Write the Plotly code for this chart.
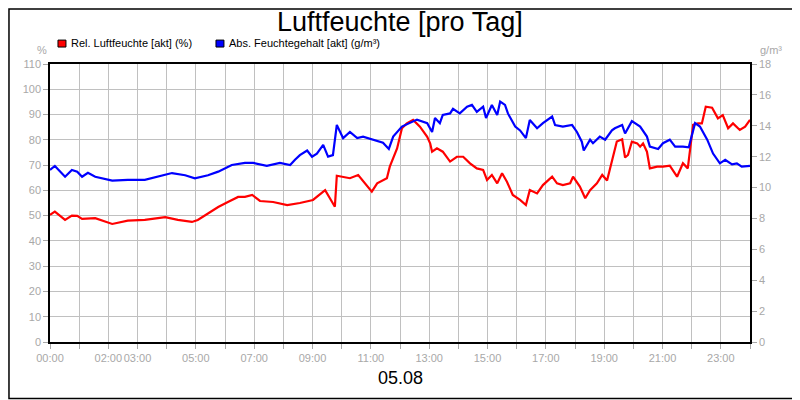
import plotly.graph_objects as go

# Rel. Luftfeuchte (%)
rel_times = ["00:00", "00:10", "00:31", "00:45", "00:56", "01:06", "01:33", "02:08", "02:40", "03:15",
             "03:42", "03:57", "04:23", "04:52", "05:04", "05:25", "05:46", "06:06", "06:27", "06:41",
             "06:56", "07:12", "07:39", "08:08", "08:34", "09:01", "09:26", "09:40", "09:46", "09:50",
             "10:17", "10:34", "10:52", "11:02", "11:13", "11:33", "11:39", "11:54", "12:04", "12:14",
             "12:27", "12:41", "12:56", "13:02", "13:06", "13:16", "13:28", "13:43", "13:57", "14:10",
             "14:24", "14:38", "14:51", "14:59", "15:09", "15:20", "15:30", "15:40", "15:52", "16:07",
             "16:19", "16:27", "16:42", "16:54", "17:13", "17:23", "17:35", "17:50", "17:56", "18:10",
             "18:21", "18:31", "18:45", "18:56", "19:06", "19:16", "19:26", "19:37", "19:43", "19:49",
             "19:57", "20:08", "20:14", "20:20", "20:28", "20:34", "20:49", "21:01", "21:15", "21:30",
             "21:42", "21:52", "22:03", "22:13", "22:21", "22:29", "22:42", "22:54", "23:04", "23:15",
             "23:25", "23:39", "23:50", "24:00"]
rel_values = [50.3, 51.6, 48.3, 50.0, 49.9, 48.7, 49.0, 46.7, 48.0, 48.3,
              49.0, 49.4, 48.3, 47.5, 48.3, 51.0, 53.4, 55.4, 57.4, 57.4,
              58.2, 55.8, 55.4, 54.2, 55.0, 56.2, 60.1, 55.5, 53.5, 65.8,
              64.8, 66.1, 62.1, 59.5, 62.8, 64.8, 69.4, 76.6, 84.6, 86.5,
              87.9, 85.2, 81.2, 78.6, 75.3, 76.6, 75.3, 71.4, 73.3, 73.3,
              70.7, 68.7, 68.1, 64.1, 66.1, 62.8, 66.8, 63.4, 58.2, 56.2,
              54.2, 60.1, 58.8, 62.1, 65.4, 62.8, 62.1, 62.8, 65.4, 61.5,
              56.9, 60.1, 62.8, 66.1, 63.9, 72.0, 79.3, 80.2, 73.0, 74.0,
              79.3, 78.6, 77.3, 78.6, 75.3, 68.7, 69.4, 69.4, 69.8, 65.4,
              70.7, 68.7, 85.9, 86.5, 86.5, 93.1, 92.7, 88.5, 89.8, 84.6,
              86.5, 83.9, 85.2, 87.9]

# Abs. Feuchtegehalt (g/m³)
abs_times = ["00:00", "00:10", "00:31", "00:45", "00:56", "01:06", "01:18", "01:33", "02:08", "02:40",
             "03:15", "03:42", "04:11", "04:38", "04:58", "05:25", "05:46", "06:14", "06:41", "06:58",
             "07:26", "07:53", "08:14", "08:24", "08:34", "08:49", "08:59", "09:09", "09:22", "09:32",
             "09:42", "09:50", "10:03", "10:17", "10:32", "10:44", "11:04", "11:25", "11:37", "11:46",
             "12:04", "12:21", "12:35", "12:56", "13:06", "13:12", "13:22", "13:28", "13:43", "13:49",
             "14:03", "14:18", "14:28", "14:38", "14:51", "14:57", "15:09", "15:20", "15:26", "15:36",
             "15:42", "15:57", "16:07", "16:19", "16:27", "16:42", "16:54", "17:13", "17:19", "17:35",
             "17:54", "18:04", "18:14", "18:18", "18:31", "18:37", "18:51", "19:02", "19:16", "19:22",
             "19:37", "19:43", "19:57", "20:14", "20:28", "20:34", "20:51", "21:01", "21:15", "21:26",
             "21:42", "21:54", "22:07", "22:17", "22:32", "22:44", "22:58", "23:09", "23:23", "23:33",
             "23:43", "24:00"]
abs_values = [11.14, 11.4, 10.7, 11.14, 11.03, 10.7, 10.96, 10.7, 10.45, 10.5,
              10.5, 10.7, 10.94, 10.8, 10.6, 10.8, 11.03, 11.46, 11.6, 11.6,
              11.4, 11.6, 11.46, 11.8, 12.1, 12.4, 12.0, 12.2, 12.76, 12.0,
              12.1, 14.05, 13.2, 13.6, 13.2, 13.3, 13.1, 12.9, 12.5, 13.3,
              13.95, 14.17, 14.4, 14.17, 13.6, 14.5, 14.17, 14.7, 14.8, 15.1,
              14.8, 15.24, 15.35, 14.9, 15.24, 14.5, 15.35, 14.7, 15.56, 15.35,
              14.8, 13.95, 13.7, 13.2, 14.38, 13.84, 14.17, 14.6, 14.05, 13.95,
              14.05, 13.6, 12.97, 12.4, 13.1, 12.87, 13.3, 13.1, 13.7, 13.84,
              14.05, 13.5, 14.3, 13.95, 13.3, 12.65, 12.5, 12.87, 13.1, 12.65,
              12.65, 12.6, 14.17, 13.95, 13.1, 12.2, 11.57, 11.8, 11.5, 11.57,
              11.35, 11.4]

hour_ticks = list(range(25))
hour_labels = ["00:00", "", "02:00", "03:00", "", "05:00", "", "07:00", "", "09:00", "", "11:00", "",
               "13:00", "", "15:00", "", "17:00", "", "19:00", "", "21:00", "", "23:00", ""]


def to_hours(t):
    h, m = t.split(":")
    return int(h) + int(m) / 60


grey = "#a8a8a8"
font = "Liberation Sans, Arial, sans-serif"

fig = go.Figure()
fig.add_trace(go.Scatter(x=[to_hours(t) for t in rel_times], y=rel_values, mode="lines",
                         line=dict(color="#ff0000", width=2.2), name="Rel. Luftfeuchte [akt] (%)",
                         showlegend=False))
fig.add_trace(go.Scatter(x=[to_hours(t) for t in abs_times], y=abs_values, mode="lines",
                         line=dict(color="#0000ff", width=2.2), name="Abs. Feuchtegehalt [akt] (g/m³)",
                         yaxis="y2", showlegend=False))

axis_common = dict(showline=True, linecolor="black", linewidth=1.5, ticks="outside", ticklen=5,
                   tickcolor=grey, tickfont=dict(color=grey, size=11, family=font), zeroline=False,
                   automargin=False)

# the page body adds an 8px offset, so the figure is 8px smaller on each side
fig.update_layout(
    width=792, height=392,
    margin=dict(l=42, r=50, t=56, b=58),
    paper_bgcolor="white", plot_bgcolor="white",
    font=dict(family=font),
    xaxis=dict(range=[0, 24], tickvals=hour_ticks, ticktext=hour_labels, showgrid=True, tickangle=0,
               gridcolor="#c0c0c0", mirror=True, **axis_common),
    yaxis=dict(range=[0, 110], dtick=10, showgrid=True, gridcolor="#c0c0c0", mirror=True,
               **axis_common),
    yaxis2=dict(range=[0, 18], dtick=2, overlaying="y", side="right", showgrid=False,
                **axis_common),
    showlegend=False,
)

# title as annotation so it sits right under the top edge
fig.add_annotation(text="Luftfeuchte [pro Tag]", xref="paper", yref="paper", x=0.5, y=1.152,
                   xanchor="center", yanchor="middle", showarrow=False,
                   font=dict(size=27, color="black", family=font))

# manual legend, unit labels and date caption
legend_items = [("#ff0000", "Rel. Luftfeuchte [akt] (%)", 0.0114), ("#0000ff", "Abs. Feuchtegehalt [akt] (g/m³)", 0.2371)]
for color, label, x0 in legend_items:
    fig.add_shape(type="rect", xref="paper", yref="paper", x0=x0, x1=x0 + 0.0114, y0=1.061, y1=1.086,
                  fillcolor=color, line=dict(color="black", width=1))
    fig.add_annotation(text=label, xref="paper", yref="paper", x=x0 + 0.016, y=1.074, xanchor="left",
                       yanchor="middle", showarrow=False, font=dict(size=11, color="black"))

fig.add_annotation(text="%", xref="paper", yref="paper", x=-0.011, y=1.05, showarrow=False,
                   xanchor="center", yanchor="middle", font=dict(size=11, color=grey))
fig.add_annotation(text="g/m³", xref="paper", yref="paper", x=1.03, y=1.05, showarrow=False,
                   xanchor="center", yanchor="middle", font=dict(size=11, color=grey))
fig.add_annotation(text="05.08", xref="paper", yref="paper", x=0.5, y=-0.129, showarrow=False,
                   xanchor="center", yanchor="middle", font=dict(size=18, color="black"))

# outer frame
fig.add_shape(type="rect", xref="paper", yref="paper", x0=-0.0586, x1=1.0671, y0=-0.2032, y1=1.1978,
              line=dict(color="black", width=1.5))

fig.write_html("out.html")
